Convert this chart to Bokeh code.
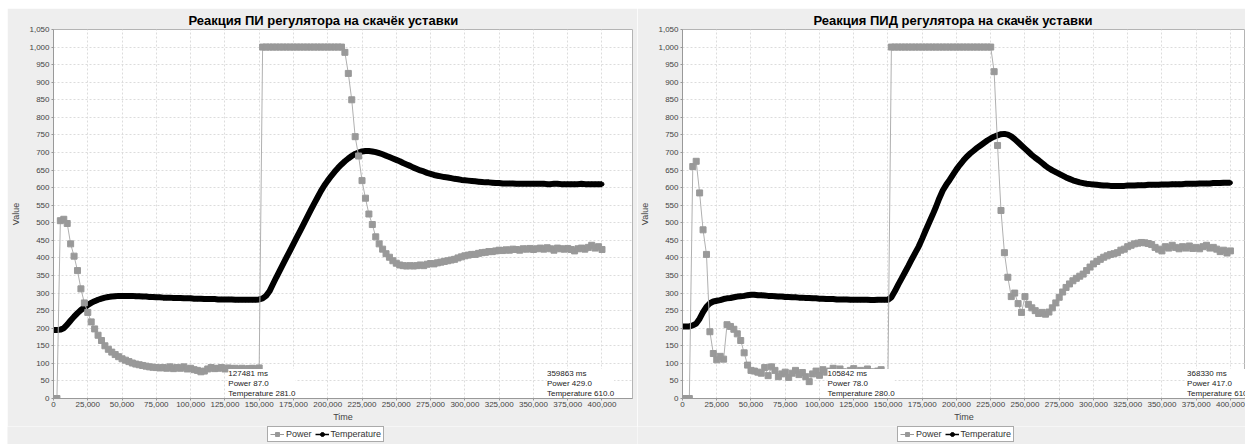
from bokeh.plotting import figure
from bokeh.layouts import row, column
from bokeh.models import (FixedTicker, NumeralTickFormatter, Legend, LegendItem,
                          ColumnDataSource)
from bokeh.core.properties import value
from bokeh.embed import file_html
from bokeh.resources import INLINE

# ---------------- data ----------------
time_ms = list(range(0, 400001, 2500))  # sample grid, 161 samples

pi_power = [
    0, 0, 506, 510, 498, 440, 405, 364, 312, 272,
    245, 218, 198, 180, 165, 150, 140, 132, 125, 119,
    113, 109, 105, 101, 98, 96, 94, 92, 90, 89,
    88, 87, 88, 86, 90, 85, 88, 86, 90, 84,
    86, 82, 80, 76, 78, 84, 88, 85, 86, 88,
    84, 87, 85, 86, 83, 86, 84, 85, 86, 84,
    87, 1000, 1000, 1000, 1000, 1000, 1000, 1000, 1000, 1000,
    1000, 1000, 1000, 1000, 1000, 1000, 1000, 1000, 1000, 1000,
    1000, 1000, 1000, 1000, 1000, 985, 925, 850, 745, 690,
    620, 570, 525, 495, 460, 440, 425, 412, 402, 392,
    385, 380, 378, 377, 378, 377, 378, 380, 378, 382,
    384, 383, 386, 388, 390, 392, 394, 396, 400, 403,
    406, 408, 410, 410, 413, 415, 416, 418, 418, 420,
    422, 421, 423, 422, 425, 424, 422, 426, 425, 427,
    424, 426, 428, 425, 429, 426, 422, 428, 426, 425,
    427, 424, 420, 426, 428, 425, 430, 436, 428, 432,
    424,
]
pi_temp = [
    195, 195, 196, 200, 210, 222, 233, 243, 252, 259,
    266, 272, 277, 281, 284, 287, 289, 290, 291, 292,
    292, 292, 292, 292, 291, 291, 290, 290, 289, 289,
    288, 288, 287, 287, 287, 286, 286, 286, 285, 285,
    285, 284, 284, 284, 283, 283, 283, 283, 282, 282,
    282, 282, 282, 281, 281, 281, 281, 281, 281, 281,
    282, 285, 292, 305, 325, 345, 364, 383, 402, 421,
    440, 459, 478, 497, 516, 535, 554, 572, 590, 606,
    620, 633, 645, 656, 666, 675, 683, 690, 696, 700,
    703, 704, 704, 703, 701, 698, 695, 691, 687, 683,
    679, 675, 670, 666, 662, 657, 653, 649, 646, 642,
    639, 636, 634, 632, 630, 629, 627, 625, 624, 622,
    621, 620, 619, 618, 617, 616, 615, 615, 614, 613,
    613, 612, 612, 612, 612, 611, 611, 611, 611, 611,
    611, 611, 611, 611, 610, 610, 611, 611, 610, 610,
    610, 610, 610, 610, 611, 610, 610, 610, 610, 610,
    610,
]
pid_power = [
    0, 0, 0, 660, 675, 585, 480, 410, 190, 128,
    110, 120, 112, 210, 205, 197, 184, 165, 130, 95,
    80, 78, 75, 72, 88, 65, 90, 80, 62, 70,
    75, 60, 72, 80, 68, 74, 62, 48, 70, 78,
    66, 82, 75, 78, 86, 70, 84, 76, 72, 80,
    85, 74, 80, 72, 84, 76, 62, 78, 82, 72,
    70, 1000, 1000, 1000, 1000, 1000, 1000, 1000, 1000, 1000,
    1000, 1000, 1000, 1000, 1000, 1000, 1000, 1000, 1000, 1000,
    1000, 1000, 1000, 1000, 1000, 1000, 1000, 1000, 1000, 1000,
    1000, 930, 720, 535, 415, 345, 290, 300, 270, 245,
    290, 268, 258, 250, 242, 245, 240, 246, 258, 272,
    288, 303, 316, 326, 335, 342, 348, 354, 364, 374,
    383, 390, 396, 402, 406, 410, 412, 415, 422, 425,
    432, 436, 440, 442, 444, 443, 441, 438, 430, 425,
    420, 432, 428, 436, 430, 426, 432, 428, 434, 427,
    430, 426, 432, 436, 428, 430, 425, 418, 422, 414,
    420,
]
pid_temp = [
    205, 205, 205, 208, 213, 227, 246, 261, 271, 276,
    278, 280, 283, 285, 286, 288, 290, 291, 292, 294,
    295, 295, 294, 294, 293, 292, 292, 291, 290, 290,
    289, 289, 288, 288, 287, 287, 286, 286, 285, 285,
    284, 284, 283, 283, 283, 282, 282, 282, 282, 281,
    281, 281, 281, 281, 281, 280, 280, 281, 281, 281,
    281, 288, 305, 324, 342, 360, 378, 397, 415, 433,
    455, 478, 500, 522, 545, 570, 592, 608, 622, 637,
    652, 665, 677, 688, 697, 705, 713, 720, 727, 734,
    740, 745, 749, 752, 753, 751, 746, 738, 729, 720,
    711, 702, 693, 685, 678, 670, 662, 655, 649, 644,
    639, 634, 629, 625, 621, 618, 615, 613, 611, 610,
    609, 608, 607, 606, 606, 605, 605, 605, 605, 605,
    606, 606, 606, 607, 607, 607, 608, 608, 608, 608,
    609, 609, 609, 610, 610, 610, 610, 611, 611, 611,
    611, 612, 612, 612, 612, 613, 613, 613, 614, 614,
    614,
]

x_ticks = list(range(0, 400001, 25000))
y_ticks = list(range(0, 1051, 50))

pi_note_time = [127481, 359863]
pi_note_power = [87.0, 429.0]
pi_note_temp = [281.0, 610.0]
pid_note_time = [105842, 368330]
pid_note_power = [78.0, 417.0]
pid_note_temp = [280.0, 610.0]

titles = ["Реакция ПИ регулятора на скачёк уставки",
          "Реакция ПИД регулятора на скачёк уставки"]
series_names = ["Power", "Temperature"]

FONT = "Liberation Sans"
BG = "#eeeeee"
POWER_STYLE = dict(line_color="#b0b0b0", line_width=1)
POWER_PTS = dict(marker="square", size=6, fill_color="#999999", line_color="#999999")
TEMP_STYLE = dict(line_color="black", line_width=6)
TEMP_PTS = dict(marker="circle", size=4, fill_color="black", line_color="black")
# legend keys: thin connecting line with the series' marker
KEY_POWER_LINE = dict(line_color="#999999", line_width=1)
KEY_POWER_PTS = dict(marker="square", size=5, fill_color="#999999", line_color="#999999")
KEY_TEMP_LINE = dict(line_color="black", line_width=1.5)
KEY_TEMP_PTS = dict(marker="circle", size=6, fill_color="black", line_color="black")


def make_chart(title, src, n_time, n_power, n_temp,
               width, x_end, border_left, border_right, title_offset):
    p = figure(width=width, height=418, x_range=(0, x_end), y_range=(0, 1050),
               output_backend="svg", toolbar_location=None,
               min_border_left=border_left, min_border_right=border_right,
               min_border_top=21, min_border_bottom=28)
    p.border_fill_color = BG
    p.background_fill_color = "white"
    p.outline_line_color = "#b4b4b4"

    p.title.text = title
    p.title.align = "left"
    p.title.offset = title_offset
    p.title.text_font = FONT
    p.title.text_font_size = "13px"
    p.title.text_font_style = "bold"
    p.title.text_color = "#000000"
    p.title.standoff = 3

    for ax in (p.xaxis[0], p.yaxis[0]):
        ax.major_label_text_font = FONT
        ax.major_label_text_font_size = "8px"
        ax.major_label_text_color = "#444444"
        ax.axis_label_text_font = FONT
        ax.axis_label_text_font_size = "9px"
        ax.axis_label_text_font_style = "normal"
        ax.axis_label_text_color = "#444444"
        ax.axis_line_color = "#999999"
        ax.major_tick_line_color = "#999999"
        ax.major_tick_out = 2
        ax.major_tick_in = 0
        ax.minor_tick_line_color = None
        ax.formatter = NumeralTickFormatter(format="0,0")

    p.xaxis[0].ticker = FixedTicker(ticks=x_ticks)
    p.yaxis[0].ticker = FixedTicker(ticks=y_ticks)
    p.xaxis[0].axis_label = "Time"
    p.yaxis[0].axis_label = "Value"
    p.xaxis[0].major_label_standoff = 1
    p.xaxis[0].axis_label_standoff = 2
    p.yaxis[0].major_label_standoff = 2
    p.yaxis[0].axis_label_standoff = 5

    p.xgrid.ticker = FixedTicker(ticks=x_ticks)
    p.ygrid.ticker = FixedTicker(ticks=y_ticks)
    for g in (p.xgrid[0], p.ygrid[0]):
        g.grid_line_color = "#dcdcdc"
        g.grid_line_dash = "2 2"
        g.grid_line_width = 1

    p.line("t", "temp", source=src, **TEMP_STYLE)
    p.scatter("t", "temp", source=src, **TEMP_PTS)
    p.line("t", "power", source=src, **POWER_STYLE)
    p.scatter("t", "power", source=src, **POWER_PTS)

    labels = [f"{t} ms\nPower {pw:.1f}\nTemperature {tp:.1f}"
              for t, pw, tp in zip(n_time, n_power, n_temp)]
    nsrc = ColumnDataSource(dict(x=n_time, y=[84] * len(n_time), text=labels))
    p.text("x", "y", text="text", source=nsrc, text_font=value(FONT),
           text_font_size=value("8px"), text_color="#222222",
           text_align="left", text_baseline="top", text_line_height=1.1,
           background_fill_color="white")
    return p


def make_legend(src, width, legend_x):
    # strip under a chart that carries its legend; its view range shows no data,
    # only the legend keys are visible
    lf = figure(width=width, height=18, output_backend="svg", toolbar_location=None,
                x_axis_location=None, y_axis_location=None, min_border=0,
                x_range=(-2, -1), y_range=(-2, -1))
    lf.grid.visible = False
    lf.outline_line_color = None
    lf.background_fill_color = BG
    lf.border_fill_color = BG
    pl = lf.line("t", "power", source=src, **KEY_POWER_LINE)
    ps = lf.scatter("t", "power", source=src, **KEY_POWER_PTS)
    tl = lf.line("t", "temp", source=src, **KEY_TEMP_LINE)
    ts = lf.scatter("t", "temp", source=src, **KEY_TEMP_PTS)
    legend = Legend(items=[LegendItem(label=series_names[0], renderers=[pl, ps]),
                           LegendItem(label=series_names[1], renderers=[tl, ts])],
                    orientation="horizontal", location=(legend_x, 2),
                    border_line_color="#555555", border_line_width=1,
                    background_fill_color="white", background_fill_alpha=1,
                    label_text_font=FONT, label_text_font_size="9px",
                    label_text_color="#333333",
                    glyph_width=14, glyph_height=10, label_height=10,
                    label_standoff=2, spacing=3, padding=2, margin=0)
    lf.add_layout(legend, "center")
    return lf


src1 = ColumnDataSource(dict(t=time_ms, power=pi_power, temp=pi_temp))
src2 = ColumnDataSource(dict(t=time_ms, power=pid_power, temp=pid_temp))

p1 = make_chart(titles[0], src1, pi_note_time, pi_note_power, pi_note_temp,
                width=630, x_end=422250, border_left=46, border_right=5,
                title_offset=135)
p2 = make_chart(titles[1], src2, pid_note_time, pid_note_power, pid_note_temp,
                width=608, x_end=411000, border_left=45, border_right=0,
                title_offset=131)
l1 = make_legend(src1, 630, 260)
l2 = make_legend(src2, 608, 260)

layout = column(row(p1, p2, spacing=0), row(l1, l2, spacing=0),
                spacing=0, margin=(8, 0, 0, 7))
with open("out.html", "w") as f:
    f.write(file_html(layout, INLINE))
